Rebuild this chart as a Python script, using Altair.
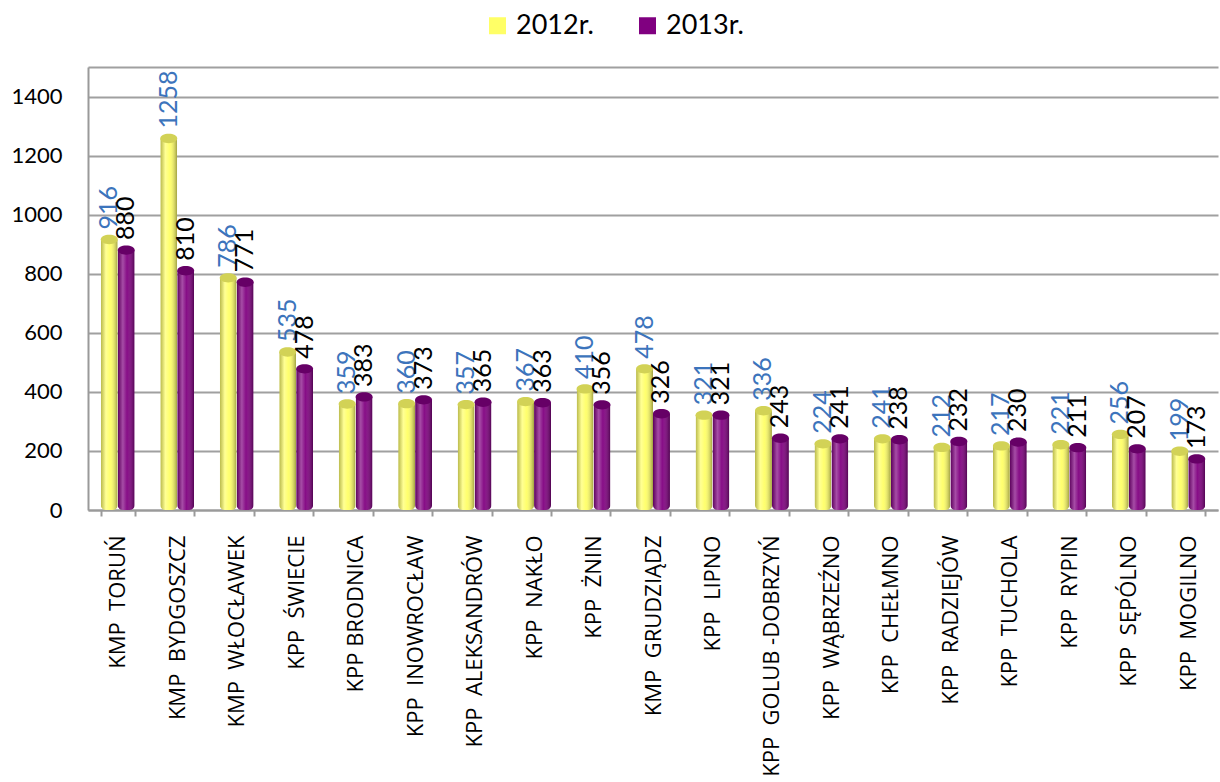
import altair as alt
import pandas as pd

NB = "\u00a0\u00a0"
categories = [
    "KMP" + NB + "TORUŃ", "KMP" + NB + "BYDGOSZCZ", "KMP" + NB + "WŁOCŁAWEK", "KPP" + NB + "ŚWIECIE",
    "KPP BRODNICA", "KPP" + NB + "INOWROCŁAW", "KPP" + NB + "ALEKSANDRÓW", "KPP" + NB + "NAKŁO",
    "KPP" + NB + "ŻNIN", "KMP" + NB + "GRUDZIĄDZ", "KPP" + NB + "LIPNO", "KPP" + NB + "GOLUB -DOBRZYŃ",
    "KPP" + NB + "WĄBRZEŹNO", "KPP" + NB + "CHEŁMNO", "KPP" + NB + "RADZIEJÓW", "KPP" + NB + "TUCHOLA",
    "KPP" + NB + "RYPIN", "KPP" + NB + "SĘPÓLNO", "KPP" + NB + "MOGILNO",
]
values_2012 = [916, 1258, 786, 535, 359, 360, 357, 367, 410, 478, 321, 336, 224, 241, 212, 217, 221, 256, 199]
values_2013 = [880, 810, 771, 478, 383, 373, 365, 363, 356, 326, 321, 243, 241, 238, 232, 230, 211, 207, 173]
series = ["2012r.", "2013r."]
y_ticks = [0, 200, 400, 600, 800, 1000, 1200, 1400, 1500]

rows = []
for c, a, b in zip(categories, values_2012, values_2013):
    rows.append({"cat": c, "series": series[0], "value": a})
    rows.append({"cat": c, "series": series[1], "value": b})
df = pd.DataFrame(rows)

is2012 = alt.datum.series == series[0]

base = alt.Chart(df).encode(
    x=alt.X(
        "cat:N", sort=categories, title=None,
        scale=alt.Scale(paddingInner=0.43, paddingOuter=0.215),
        axis=alt.Axis(
            tickBand="extent", labelAngle=270, labelFont="Open Sans", labelFontSize=22,
            labelColor="black", labelPadding=19, tickSize=6, tickWidth=2,
            tickColor="#9a9a9a", domainColor="#9a9a9a", domainWidth=2, grid=False,
            labelLimit=400,
        ),
    ),
    xOffset=alt.XOffset("series:N", sort=series, scale=alt.Scale(paddingInner=0, paddingOuter=0)),
    y=alt.Y(
        "value:Q", title=None,
        scale=alt.Scale(domain=[0, 1500], nice=False, zero=True),
        axis=alt.Axis(
            values=y_ticks, labelExpr="datum.value == 1500 ? '' : datum.label",
            grid=True, gridColor="#a0a0a0", gridWidth=2, ticks=False,
            domainColor="#9a9a9a", domainWidth=2, labelFont="Lato", labelFontSize=22,
            labelColor="black", labelPadding=26, format="d",
        ),
    ),
)

bars = base.mark_bar(cornerRadiusBottomLeft=5, cornerRadiusBottomRight=5).encode(
    color=alt.Color(
        "series:N", sort=series,
        scale=alt.Scale(domain=series, range=["#FFFF66", "#800080"]),
        legend=alt.Legend(
            orient="none", legendX=396, legendY=-55, direction="horizontal", title=None,
            symbolType="square", symbolSize=289, symbolStrokeWidth=0, symbolOpacity=1,
            labelFont="Lato", labelFontSize=27, labelColor="black", labelOffset=5,
            columnPadding=40,
        ),
    )
)

shade = base.mark_bar(
    cornerRadiusBottomLeft=5, cornerRadiusBottomRight=5,
    fill=alt.Gradient(
        gradient="linear", x1=0, x2=1, y1=0, y2=0,
        stops=[
            alt.GradientStop(offset=0, color="rgba(0,0,0,0.28)"),
            alt.GradientStop(offset=0.3, color="rgba(255,255,255,0.30)"),
            alt.GradientStop(offset=0.55, color="rgba(255,255,255,0.05)"),
            alt.GradientStop(offset=1, color="rgba(0,0,0,0.38)"),
        ],
    ),
)

caps = base.mark_point(
    shape="M -1 0 A 1 0.55 0 1 1 1 0 A 1 0.55 0 1 1 -1 0 Z",
    size=289, filled=True, opacity=1, strokeWidth=0,
).encode(color=alt.condition(is2012, alt.value("#D2D256"), alt.value("#660066")))

labels = base.mark_text(
    angle=270, align="left", baseline="middle", dx=10, font="Lato", fontSize=25,
).encode(
    text=alt.Text("value:Q", format="d"),
    color=alt.condition(is2012, alt.value("#3C74BC"), alt.value("black")),
)

chart = (
    alt.layer(bars, shade, caps, labels)
    .properties(
        width=1130, height=443,
        autosize=alt.AutoSizeParams(type="none"),
        padding={"left": 88, "top": 67, "right": 2, "bottom": 272},
        background="white",
    )
    .configure_view(stroke=None)
)

chart.save("out.html", embed_options={"renderer": "svg", "actions": False})
